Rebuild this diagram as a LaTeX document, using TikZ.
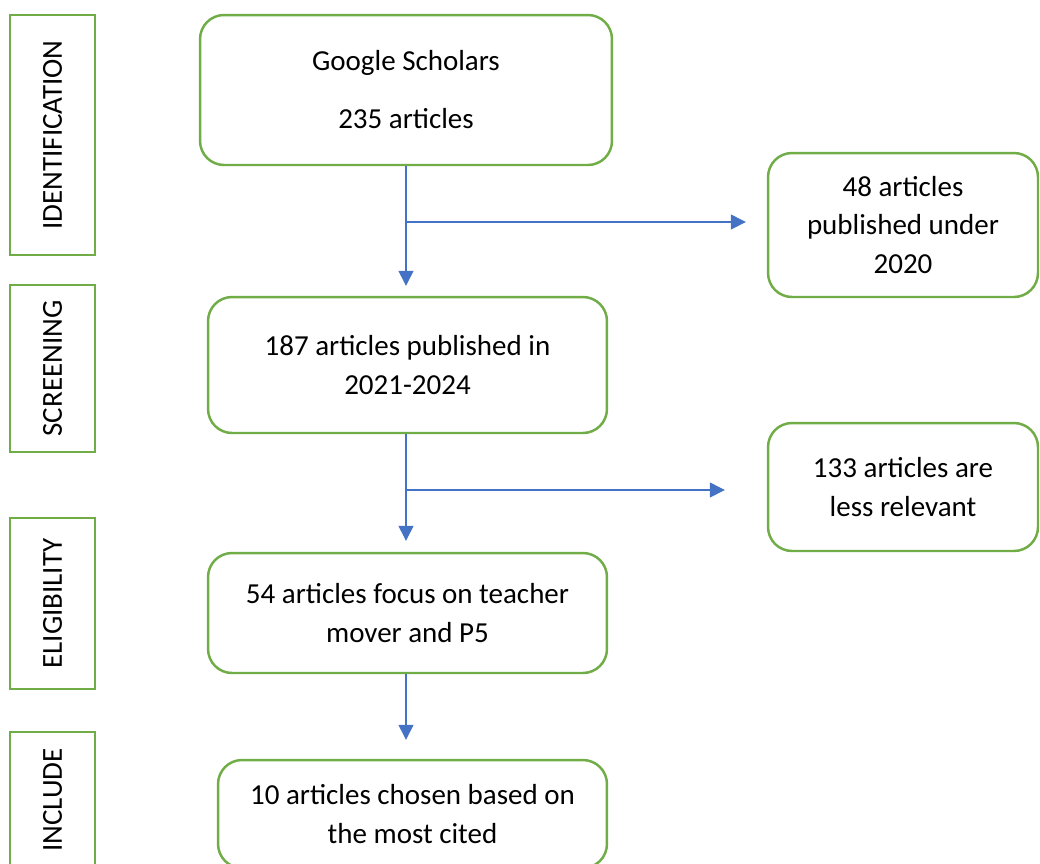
\documentclass[tikz,border=0pt]{standalone}
\usepackage{fontspec}
\setmainfont{Carlito}
\usetikzlibrary{arrows.meta}

\definecolor{boxgreen}{HTML}{70AD47}
\definecolor{flowblue}{HTML}{4472C4}

\tikzset{
  stagebox/.style={draw=boxgreen, line width=1.4pt, rounded corners=0.48cm,
    align=center, inner sep=2pt,
    font=\fontsize{16.5}{22}\selectfont},
  phasebox/.style={draw=boxgreen, line width=1.4pt, rotate=90,
    align=center, inner sep=2pt,
    font=\fontsize{16.5}{22}\selectfont},
  flow/.style={draw=flowblue, line width=0.75pt,
    -{Triangle[length=0.3cm,width=0.3cm]}}
}

\begin{document}
\begin{tikzpicture}[x=0.02cm, y=-0.02cm]%[auto]
\useasboundingbox (0,0) rectangle (1040,863);

% phases on the left
\node [phasebox, minimum width=4.8cm, minimum height=1.7cm] (idf) at (52.5,135) {IDENTIFICATION};
\node [phasebox, minimum width=3.34cm, minimum height=1.7cm] (scr) at (52.5,368.5) {SCREENING};
\node [phasebox, minimum width=3.42cm, minimum height=1.7cm] (eli) at (52.5,603.5) {ELIGIBILITY};
\node [phasebox, minimum width=2.72cm, minimum height=1.7cm] (inc) at (52.5,800) {INCLUDE};

% main boxes
\node [stagebox, minimum width=8.24cm, minimum height=3.0cm] (gs) at (406,90) {Google Scholars\\[11pt]235 articles};
\node [stagebox, minimum width=7.98cm, minimum height=2.72cm] (sc) at (407.5,365) {187 articles published in\\2021-2024};
\node [stagebox, minimum width=7.98cm, minimum height=2.4cm] (el) at (407.5,613) {54 articles focus on teacher\\mover and P5};
\node [stagebox, minimum width=7.78cm, minimum height=2.16cm] (ch) at (412.5,814) {10 articles chosen based on\\the most cited};

% excluded boxes
\node [stagebox, minimum width=5.4cm, minimum height=2.88cm] (old) at (903,225) {48 articles\\published under\\2020};
\node [stagebox, minimum width=5.4cm, minimum height=2.56cm] (rel) at (903,487) {133 articles are\\less relevant};

% arrows
\coordinate (br1) at (406,222);
\coordinate (br2) at (406,490);
\draw [flow, shorten >=0.2cm] (gs.south) -- (gs.south |- sc.north);
\draw [flow, shorten >=0.42cm] (br1) -- (br1 -| old.west);
\draw [flow, shorten >=0.22cm] (gs.south |- sc.south) -- (gs.south |- el.north);
\draw [flow, shorten >=0.84cm] (br2) -- (br2 -| rel.west);
\draw [flow, shorten >=0.38cm] (gs.south |- el.south) -- (gs.south |- ch.north);
\end{tikzpicture}
\end{document}
